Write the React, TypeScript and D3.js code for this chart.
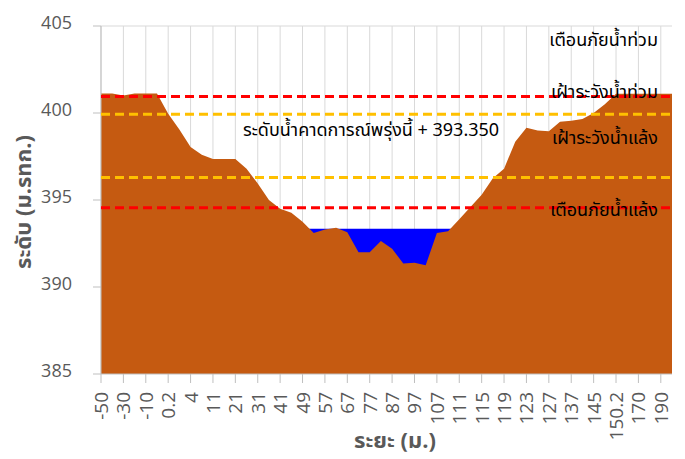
import React from 'react';
import * as d3 from 'd3';

// distance along the cross-section (m.), only every other one is labelled
const distances = [
  '-50', '-40', '-30', '-20', '-10', '0', '0.2', '2', '4', '6',
  '11', '16', '21', '26', '31', '36', '41', '45', '49', '53',
  '57', '62', '67', '72', '77', '82', '87', '92', '97', '102',
  '107', '109', '111', '113', '115', '117', '119', '121', '123', '125',
  '127', '132', '137', '141', '145', '148', '150.2', '160', '170', '180',
  '190', '200',
];

// ground level (m. MSL)
const groundLevel = [
  401.12, 401.12, 401.0, 401.12, 401.12, 401.12, 399.95, 399.05, 398.05, 397.6,
  397.35, 397.35, 397.35, 396.8, 395.95, 395.0, 394.5, 394.27, 393.75, 393.1,
  393.3, 393.4, 393.15, 392.0, 392.0, 392.65, 392.2, 391.35, 391.4, 391.25,
  393.1, 393.2, 393.9, 394.6, 395.3, 396.25, 396.8, 398.35, 399.15, 399.0,
  398.95, 399.5, 399.55, 399.65, 400.0, 400.5, 401.1, 401.1, 401.1, 401.1,
  401.1, 401.1,
];

// forecast water surface inside the channel
const waterSurface = [
  null, null, null, null, null, null, null, null, null, null,
  null, null, null, null, null, null, null, null, 393.35, 393.35,
  393.35, 393.35, 393.35, 393.35, 393.35, 393.35, 393.35, 393.35, 393.35, 393.35,
  393.35, 393.35, 393.35, null, null, null, null, null, null, null,
  null, null, null, null, null, null, null, null, null, null,
  null, null,
];

const thresholdLevels = [400.95, 399.93, 396.3, 394.55];
const thresholdKinds = ['warn', 'watch', 'watch', 'warn'];
const thresholdNames = ['เตือนภัยน้ำท่วม', 'เฝ้าระวังน้ำท่วม', 'เฝ้าระวังน้ำแล้ง', 'เตือนภัยน้ำแล้ง'];
const forecastText = 'ระดับน้ำคาดการณ์พรุ่งนี้ + 393.350';
const yTicks = [385, 390, 395, 400, 405];

const W = 685;
const H = 459;
const left = 101;
const right = 672;
const top = 26;
const bottom = 374;
const thaiFont = "'Noto Sans Thai', 'Noto Sans', 'DejaVu Sans', sans-serif";
const numFont = "'Open Sans', 'Noto Sans', sans-serif";
const kindColor = {warn: '#ff0000', watch: '#ffc000'};
const nameY = [40, 92, 138, 210]; // label rows on the right

export default function App() {
  const x = d3.scalePoint().domain(distances).range([left, right]);
  const y = d3.scaleLinear().domain([385, 405]).range([bottom, top]);

  const ground = d3
    .area()
    .x((d, i) => x(distances[i]))
    .y0(y(385))
    .y1(d => y(d))(groundLevel);

  const water = d3
    .area()
    .defined(d => d != null)
    .x((d, i) => x(distances[i]))
    .y0(y(385))
    .y1(d => y(d))(waterSurface);

  const labelled = distances.filter((d, i) => i % 2 === 0);

  return (
    <svg width={W} height={H} style={{position: 'absolute', left: 0, top: 0, background: '#fff'}}>
      {/* vertical gridlines */}
      {labelled.map(d => (
        <line key={d} x1={x(d)} x2={x(d)} y1={top} y2={bottom} stroke="#d9d9d9" strokeWidth={1} />
      ))}
      <line x1={left} x2={right} y1={y(405)} y2={y(405)} stroke="#d9d9d9" />

      <path d={water} fill="#0000ff" />
      <path d={ground} fill="#c55a11" />

      {/* axes */}
      <line x1={left} x2={left} y1={top} y2={bottom} stroke="#bfbfbf" />
      <line x1={left} x2={right} y1={bottom} y2={bottom} stroke="#bfbfbf" />
      {yTicks.map(t => (
        <g key={t}>
          <line x1={left - 8} x2={left} y1={y(t)} y2={y(t)} stroke="#bfbfbf" />
          <text x={72} y={y(t) - 4} textAnchor="end" dominantBaseline="central" fontSize={18} fill="#595959" fontFamily={numFont}>
            {t}
          </text>
        </g>
      ))}
      {labelled.map(d => (
        <g key={d}>
          <line x1={x(d)} x2={x(d)} y1={bottom} y2={bottom + 9} stroke="#bfbfbf" />
          <text
            transform={`translate(${x(d)},${bottom + 18}) rotate(-90)`}
            textAnchor="end"
            dominantBaseline="central"
            fontSize={19}
            fill="#595959"
            fontFamily={numFont}>
            {d}
          </text>
        </g>
      ))}

      {/* threshold lines */}
      {thresholdLevels.map((v, i) => (
        <line
          key={i}
          x1={left}
          x2={right}
          y1={y(v)}
          y2={y(v)}
          stroke={kindColor[thresholdKinds[i]]}
          strokeWidth={3}
          strokeDasharray="9,5"
        />
      ))}
      {thresholdNames.map((n, i) => (
        <text key={n} x={658} y={nameY[i]} textAnchor="end" dominantBaseline="central" fontSize={18} fill="#000" fontFamily={thaiFont}>
          {n}
        </text>
      ))}
      <text x={243} y={130} dominantBaseline="central" fontSize={18} fill="#000" fontFamily={thaiFont}>
        {forecastText}
      </text>

      {/* axis titles */}
      <text
        transform={`translate(24,${(top + bottom) / 2 + 2}) rotate(-90)`}
        textAnchor="middle"
        dominantBaseline="central"
        fontSize={22}
        fontWeight="bold"
        fill="#595959"
        fontFamily={thaiFont}>
        ระดับ (ม.รทก.)
      </text>
      <text x={395} y={441} textAnchor="middle" dominantBaseline="central" fontSize={22} fontWeight="bold" fill="#595959" fontFamily={thaiFont}>
        ระยะ (ม.)
      </text>
    </svg>
  );
}
